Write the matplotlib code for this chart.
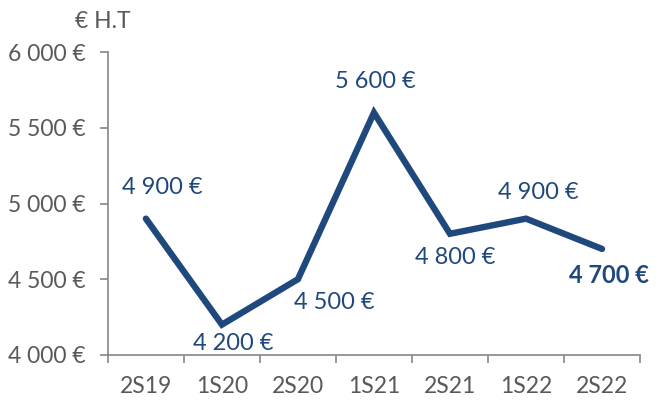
import matplotlib.pyplot as plt

periods = ["2S19", "1S20", "2S20", "1S21", "2S21", "1S22", "2S22"]
prices = [4900, 4200, 4500, 5600, 4800, 4900, 4700]
# label offsets in pixels (dx, dy) from each point
label_offsets = [(16, 31), (11, -19), (36, -23), (1, 31), (5, -24), (12, 26), (7, -27)]

yticks = [4000, 4500, 5000, 5500, 6000]

BLUE = "#1F497D"
GREY = "#868686"
TXT = "#595959"

plt.rcParams["font.family"] = ["Lato", "DejaVu Sans"]

fig = plt.figure(figsize=(6.66, 4.01), dpi=100)
ax = fig.add_axes([0.162, 0.115, 0.799, 0.755])

x = list(range(len(periods)))
ax.plot(x, prices, color=BLUE, lw=4.6, solid_joinstyle="miter", solid_capstyle="round")

for i, (v, off) in enumerate(zip(prices, label_offsets)):
    txt = f"{v:,} €".replace(",", " ")
    ax.annotate(txt, (i, v), xytext=off, textcoords="offset pixels",
                ha="center", va="center", fontsize=17, color=BLUE,
                fontweight="bold" if i == len(prices) - 1 else "normal")

ax.set_xlim(-0.5, len(periods) - 0.5)
ax.set_ylim(4000, 6000)
ax.set_yticks(yticks)
ax.set_yticklabels([f"{t:,} €".replace(",", " ") for t in yticks])
ax.set_xticks(x)
ax.set_xticklabels(periods)
ax.set_xticks([i - 0.5 for i in range(len(periods) + 1)], minor=True)

ax.tick_params(axis="x", which="major", length=0, pad=15, labelsize=16.5, labelcolor=TXT)
ax.tick_params(axis="x", which="minor", length=6, color=GREY, width=1.2, direction="out")
ax.tick_params(axis="y", length=6, color=GREY, width=1.2, pad=10, labelsize=16.5, labelcolor=TXT)

for s in ["top", "right"]:
    ax.spines[s].set_visible(False)
for s in ["left", "bottom"]:
    ax.spines[s].set_color(GREY)
    ax.spines[s].set_linewidth(1.2)

fig.text(103 / 666, 1 - 22 / 401, "€ H.T", ha="center", va="center", fontsize=16.5, color=TXT)

fig.savefig("out.png", dpi=100)
